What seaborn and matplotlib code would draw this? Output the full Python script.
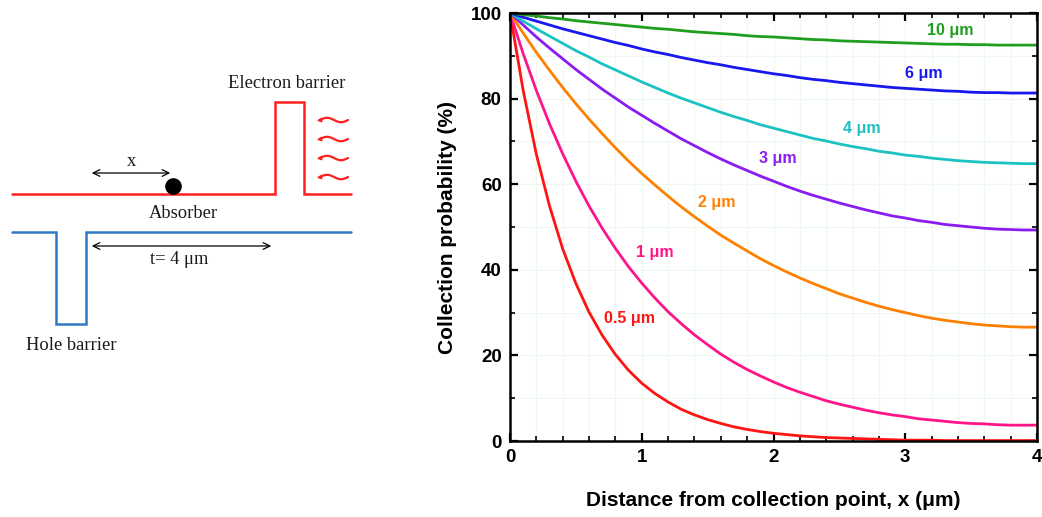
import numpy as np
import pandas as pd
import matplotlib
matplotlib.use("Agg")
import matplotlib.pyplot as plt
import seaborn as sns

# distance from the collection point (um), 0 to 4 in 0.1 steps
distance = [0.0, 0.1, 0.2, 0.3, 0.4, 0.5, 0.6, 0.7, 0.8, 0.9,
            1.0, 1.1, 1.2, 1.3, 1.4, 1.5, 1.6, 1.7, 1.8, 1.9,
            2.0, 2.1, 2.2, 2.3, 2.4, 2.5, 2.6, 2.7, 2.8, 2.9,
            3.0, 3.1, 3.2, 3.3, 3.4, 3.5, 3.6, 3.7, 3.8, 3.9,
            4.0]

# collection probability (%)
p_0_5um = [100, 81.9, 67.0, 54.9, 44.9, 36.8, 30.1, 24.7, 20.2, 16.5,
           13.5, 11.1, 9.1, 7.4, 6.1, 5.0, 4.1, 3.3, 2.7, 2.2,
           1.8, 1.5, 1.2, 1.0, 0.8, 0.7, 0.6, 0.5, 0.4, 0.3,
           0.2, 0.2, 0.2, 0.1, 0.1, 0.1, 0.1, 0.1, 0.1, 0.1,
           0.1]
p_1um = [100, 90.5, 81.9, 74.1, 67.1, 60.7, 54.9, 49.7, 45.0, 40.7,
         36.9, 33.4, 30.2, 27.4, 24.8, 22.5, 20.3, 18.4, 16.7, 15.2,
         13.8, 12.5, 11.4, 10.4, 9.4, 8.6, 7.9, 7.2, 6.6, 6.1,
         5.7, 5.2, 4.9, 4.6, 4.3, 4.1, 4.0, 3.8, 3.7, 3.7,
         3.7]
p_2um = [100, 95.3, 90.8, 86.6, 82.6, 78.8, 75.2, 71.8, 68.5, 65.4,
         62.5, 59.8, 57.2, 54.7, 52.4, 50.2, 48.1, 46.2, 44.4, 42.6,
         41.0, 39.5, 38.1, 36.8, 35.6, 34.4, 33.4, 32.4, 31.5, 30.7,
         30.0, 29.3, 28.7, 28.2, 27.8, 27.4, 27.1, 26.9, 26.7, 26.6,
         26.6]
p_3um = [100, 97.2, 94.4, 91.8, 89.3, 86.8, 84.5, 82.2, 80.1, 78.0,
         76.1, 74.2, 72.4, 70.6, 69.0, 67.4, 65.9, 64.5, 63.2, 61.9,
         60.7, 59.5, 58.4, 57.4, 56.5, 55.6, 54.8, 54.0, 53.3, 52.6,
         52.1, 51.5, 51.1, 50.6, 50.3, 50.0, 49.7, 49.5, 49.4, 49.3,
         49.3]
p_4um = [100, 98.1, 96.3, 94.6, 92.9, 91.2, 89.7, 88.1, 86.7, 85.3,
         83.9, 82.6, 81.3, 80.1, 79.0, 77.9, 76.8, 75.8, 74.9, 73.9,
         73.1, 72.3, 71.5, 70.7, 70.1, 69.4, 68.8, 68.3, 67.7, 67.3,
         66.8, 66.5, 66.1, 65.8, 65.5, 65.3, 65.1, 65.0, 64.9, 64.8,
         64.8]
p_6um = [100, 99.0, 98.1, 97.2, 96.3, 95.5, 94.7, 93.9, 93.1, 92.4,
         91.6, 90.9, 90.3, 89.6, 89.0, 88.4, 87.9, 87.3, 86.8, 86.3,
         85.8, 85.4, 84.9, 84.5, 84.2, 83.8, 83.5, 83.2, 82.9, 82.6,
         82.4, 82.2, 82.0, 81.8, 81.7, 81.5, 81.4, 81.4, 81.3, 81.3,
         81.3]
p_10um = [100, 99.6, 99.3, 98.9, 98.6, 98.2, 97.9, 97.6, 97.3, 97.0,
          96.7, 96.4, 96.2, 95.9, 95.6, 95.4, 95.2, 95.0, 94.7, 94.5,
          94.4, 94.2, 94.0, 93.8, 93.7, 93.5, 93.4, 93.3, 93.2, 93.1,
          93.0, 92.9, 92.8, 92.7, 92.7, 92.6, 92.6, 92.5, 92.5, 92.5,
          92.5]

series_names = ["0.5 μm", "1 μm", "2 μm", "3 μm", "4 μm", "6 μm", "10 μm"]
series_values = [p_0_5um, p_1um, p_2um, p_3um, p_4um, p_6um, p_10um]
colors = ["#ff1414", "#ff1489", "#ff8000", "#8a1cf0", "#1cc2c2", "#1818ee", "#1f9e1f"]
# where each curve label sits (data coords)
label_x = [0.91, 1.10, 1.57, 2.03, 2.67, 3.14, 3.34]
label_y = [28.7, 44.1, 55.8, 65.9, 72.9, 85.8, 96.0]

rows = []
for name, vals in zip(series_names, series_values):
    for xv, yv in zip(distance, vals):
        rows.append({"x": xv, "p": yv, "L": name})
df = pd.DataFrame(rows)

sns.set_theme(style="white")
plt.rcParams["font.family"] = ["Liberation Sans", "DejaVu Sans"]
plt.rcParams["text.color"] = "black"
plt.rcParams["axes.labelcolor"] = "black"
plt.rcParams["xtick.color"] = "black"
plt.rcParams["ytick.color"] = "black"

fig = plt.figure(figsize=(10.42, 5.17), dpi=100)

# ---- left: band schematic, drawn in image pixel coords ----
axd = fig.add_axes([0, 0, 360 / 1042, 1])
axd.set_xlim(0, 360)
axd.set_ylim(517, 0)
axd.axis("off")
serif = dict(family=["Liberation Serif", "DejaVu Serif"], fontsize=13.3, color="#1a1a1a")

axd.plot([12, 275, 275, 304, 304, 351], [194, 194, 102, 102, 194, 194],
         color="#ff2020", lw=1.8, solid_joinstyle="miter")
axd.plot([12, 56, 56, 86, 86, 351], [232, 232, 324, 324, 232, 232],
         color="#2f78c4", lw=1.8, solid_joinstyle="miter")
axd.scatter([173], [186], s=120, color="black", zorder=5)
axd.annotate("", xy=(89, 173), xytext=(173, 173),
             arrowprops=dict(arrowstyle="<->", color="black", lw=0.9))
axd.annotate("", xy=(89, 246), xytext=(274, 246),
             arrowprops=dict(arrowstyle="<->", color="black", lw=0.9))
axd.text(131, 161, "x", ha="center", va="center", **serif)
axd.text(183, 214, "Absorber", ha="center", va="center", **serif)
axd.text(179, 260, "t= 4 μm", ha="center", va="center", **serif)
axd.text(71, 345, "Hole barrier", ha="center", va="center", **serif)
axd.text(287, 83, "Electron barrier", ha="center", va="center", **serif)

# incoming photons: small red squiggles with arrow heads
for wy in [120, 139, 158, 177]:
    wx = np.linspace(320, 348, 30)
    axd.plot(wx, wy - 2.2 * np.sin((wx - 320) / 28 * 2 * np.pi), color="#ff2020",
             lw=1.6, solid_capstyle="round")
    axd.annotate("", xy=(314, wy + 1), xytext=(322, wy),
                 arrowprops=dict(arrowstyle="-|>", color="#ff2020", lw=1.0,
                                 mutation_scale=6))

# ---- right: collection probability curves ----
ax = fig.add_axes([510 / 1042, 76 / 517, 527 / 1042, 428 / 517])
sns.lineplot(data=df, x="x", y="p", hue="L", palette=dict(zip(series_names, colors)),
             hue_order=series_names, lw=2.0, legend=False, ax=ax)

for name, c, lx, ly in zip(series_names, colors, label_x, label_y):
    ax.text(lx, ly, name, color=c, fontsize=11.5, fontweight="bold",
            ha="center", va="center")

ax.set_xlim(0, 4)
ax.set_ylim(0, 100)
ax.set_xticks([0, 1, 2, 3, 4])
ax.set_yticks([0, 20, 40, 60, 80, 100])
ax.set_xticks(np.arange(0, 4.01, 0.2), minor=True)
ax.set_yticks(np.arange(0, 101, 10), minor=True)
ax.grid(True, which="both", color="#eef9ee", lw=0.8)
ax.set_axisbelow(True)
ax.tick_params(which="major", direction="in", length=6, width=1.6,
               bottom=True, left=True, top=True, right=True, labelsize=13.5, pad=6)
ax.tick_params(which="minor", direction="in", length=3.5, width=1.2,
               bottom=True, left=True, top=True, right=True)
for lab in ax.get_xticklabels() + ax.get_yticklabels():
    lab.set_fontweight("bold")
for sp in ax.spines.values():
    sp.set_linewidth(1.8)
    sp.set_color("black")
ax.set_xlabel("Distance from collection point, x (μm)", fontsize=15,
              fontweight="bold", labelpad=18)
ax.set_ylabel("Collection probability (%)", fontsize=15, fontweight="bold", labelpad=10)

fig.savefig("out.png", dpi=100)
